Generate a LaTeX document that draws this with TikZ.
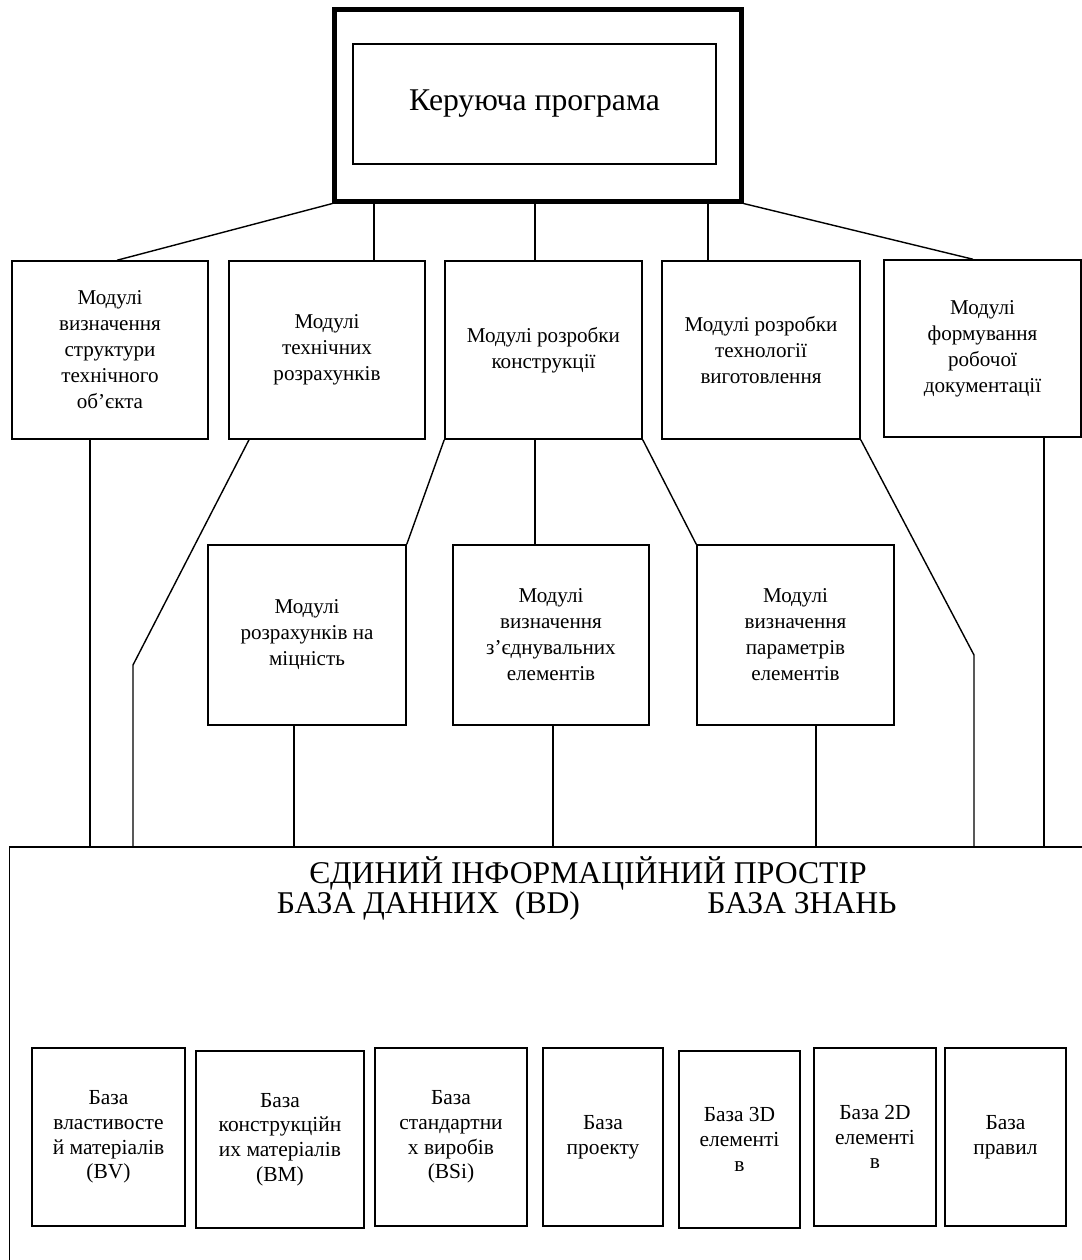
\documentclass[tikz,border=0pt]{standalone}
\usepackage{fontspec}
\setmainfont{Liberation Serif}

\begin{document}
\begin{tikzpicture}[x=0.01cm,y=-0.01cm,line width=0.4pt,
  box/.style={draw,inner sep=0pt,align=center,font=\fontsize{6}{7.4}\selectfont},
  basebox/.style={box,font=\fontsize{6.1}{7}\selectfont},
  bigtext/.style={inner sep=0pt,anchor=base,font=\fontsize{9}{10}\selectfont}]
\useasboundingbox (0,0) rectangle (1082,1260);
\clip (0,0) rectangle (1082,1260);

% control program
\node[draw,line width=1.4pt,minimum width=4.06cm,minimum height=1.91cm] (ctrl) at (538,105.5) {};
\node[draw,inner sep=0pt,minimum width=3.63cm,minimum height=1.2cm,font=\fontsize{9}{10}\selectfont] (ctrlin) at (534.5,104) {Керуюча програма};

% first row of modules
\node[box,minimum width=1.96cm,minimum height=1.78cm] (m1) at (110,350) {Модулі\\визначення\\структури\\технічного\\об’єкта};
\node[box,minimum width=1.96cm,minimum height=1.78cm] (m2) at (327,350) {Модулі\\технічних\\розрахунків};
\node[box,minimum width=1.97cm,minimum height=1.78cm] (m3) at (543.5,350) {Модулі розробки\\конструкції};
\node[box,minimum width=1.98cm,minimum height=1.78cm] (m4) at (761,350) {Модулі розробки\\технології\\виготовлення};
\node[box,minimum width=1.97cm,minimum height=1.77cm] (m5) at (982.5,348.5) {Модулі\\формування\\робочої\\документації};

% second row of modules
\node[box,minimum width=1.98cm,minimum height=1.8cm] (r1) at (307,635) {Модулі\\розрахунків на\\міцність};
\node[box,minimum width=1.96cm,minimum height=1.8cm] (r2) at (551,635) {Модулі\\визначення\\з’єднувальних\\елементів};
\node[box,minimum width=1.97cm,minimum height=1.8cm] (r3) at (795.5,635) {Модулі\\визначення\\параметрів\\елементів};

% information space
\node[draw,minimum width=10.9cm,minimum height=4.33cm] (space) at (555,1063.5) {};
\node[bigtext] (title) at (588,883) {ЄДИНИЙ ІНФОРМАЦІЙНИЙ ПРОСТІР};
\node[bigtext] (bd) at (428.5,913) {БАЗА ДАННИХ~~(BD)};
\node[bigtext] (bz) at (802,913) {БАЗА ЗНАНЬ};

\node[basebox,minimum width=1.53cm,minimum height=1.78cm] (b1) at (108.5,1137) {База\\властивосте\\й матеріалів\\(BV)};
\node[basebox,minimum width=1.68cm,minimum height=1.77cm] (b2) at (280,1139.5) {База\\конструкційн\\их матеріалів\\(BM)};
\node[basebox,minimum width=1.52cm,minimum height=1.78cm] (b3) at (451,1137) {База\\стандартни\\х виробів\\(BSi)};
\node[basebox,minimum width=1.2cm,minimum height=1.78cm] (b4) at (603,1137) {База\\проекту};
\node[basebox,minimum width=1.21cm,minimum height=1.77cm] (b5) at (739.5,1139.5) {База 3D\\елементі\\в};
\node[basebox,minimum width=1.22cm,minimum height=1.78cm] (b6) at (875,1137) {База 2D\\елементі\\в};
\node[basebox,minimum width=1.21cm,minimum height=1.78cm] (b7) at (1005.5,1137) {База\\правил};

% columns and bends of the connectors
\coordinate (x1) at (117,0);
\coordinate (x2) at (374,0);
\coordinate (x3) at (535,0);
\coordinate (x4) at (708,0);
\coordinate (x5) at (973,0);
\coordinate (y1) at (90,0);
\coordinate (y2) at (249,0);
\coordinate (y5) at (1044,0);
\coordinate (z1) at (294,0);
\coordinate (z2) at (553,0);
\coordinate (z3) at (816,0);
\coordinate (bend2) at (133,665);
\coordinate (bend4) at (974,655);

\draw (ctrl.south west) -- (m1.north -| x1);
\draw (ctrl.south -| x2) -- (m2.north -| x2);
\draw (ctrl.south -| x3) -- (m3.north -| x3);
\draw (ctrl.south -| x4) -- (m4.north -| x4);
\draw (ctrl.south east) -- (m5.north -| x5);

\draw (m3.south west) -- (r1.north east);
\draw (m3.south -| x3) -- (r2.north -| x3);
\draw (m3.south east) -- (r3.north west);

\draw (m1.south -| y1) -- (space.north -| y1);
\draw (m2.south -| y2) -- (bend2) -- (space.north -| bend2);
\draw (m4.south east) -- (bend4) -- (space.north -| bend4);
\draw (m5.south -| y5) -- (space.north -| y5);
\draw (r1.south -| z1) -- (space.north -| z1);
\draw (r2.south -| z2) -- (space.north -| z2);
\draw (r3.south -| z3) -- (space.north -| z3);
\end{tikzpicture}
\end{document}
